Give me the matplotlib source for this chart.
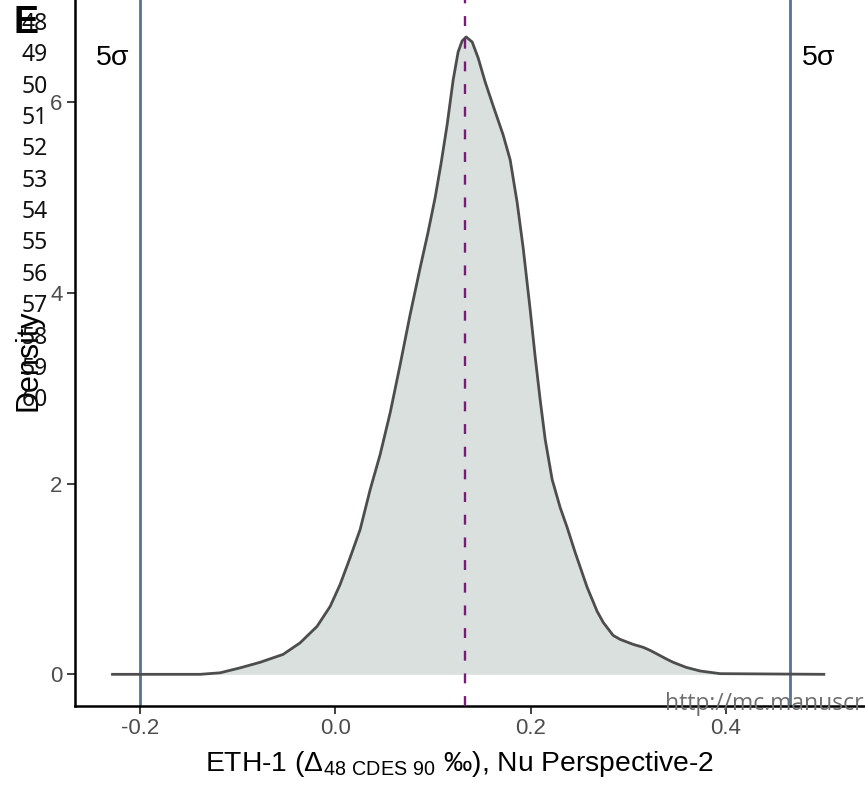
import matplotlib
matplotlib.use("Agg")
import matplotlib.pyplot as plt

# ---- data ----
x_vals = [-0.2298, -0.1386, -0.1181, -0.0976, -0.0772, -0.0536, -0.0362, -0.0188,
          -0.0054, 0.0048, 0.0151, 0.0253, 0.0356, 0.0458, 0.0561, 0.0663, 0.0765,
          0.0868, 0.0950, 0.1021, 0.1083, 0.1144, 0.1206, 0.1257, 0.1298, 0.1339,
          0.1401, 0.1462, 0.1534, 0.1616, 0.1718, 0.1790, 0.1862, 0.1923, 0.1995,
          0.2046, 0.2097, 0.2149, 0.2220, 0.2302, 0.2374, 0.2456, 0.2579, 0.2681,
          0.2743, 0.2845, 0.2917, 0.3050, 0.3153, 0.3224, 0.3398, 0.3460, 0.3593,
          0.3736, 0.3941, 0.5017]
density = [0.0, 0.0, 0.016, 0.068, 0.126, 0.209, 0.330, 0.503,
           0.712, 0.942, 1.225, 1.518, 1.937, 2.304, 2.743, 3.246, 3.770,
           4.262, 4.639, 4.995, 5.361, 5.759, 6.230, 6.524, 6.639, 6.681,
           6.628, 6.461, 6.209, 5.958, 5.654, 5.393, 4.942, 4.471, 3.822,
           3.330, 2.880, 2.461, 2.042, 1.749, 1.539, 1.277, 0.911, 0.660,
           0.545, 0.408, 0.366, 0.314, 0.283, 0.251, 0.157, 0.126, 0.073,
           0.035, 0.007, 0.0]
mean_value = 0.133
sigma_limits = [-0.2, 0.466]
sigma_label = "5σ"
x_ticks = [-0.2, 0.0, 0.2, 0.4]
x_tick_labels = ["-0.2", "0.0", "0.2", "0.4"]
y_ticks = [0, 2, 4, 6]
line_numbers = list(range(48, 61))
panel_label = "E"
watermark = "http://mc.manuscr"

plt.rcParams["font.family"] = ["Liberation Sans", "DejaVu Sans"]
plt.rcParams["mathtext.fontset"] = "custom"
plt.rcParams["mathtext.rm"] = "Liberation Sans"

W, H = 865, 786
fig = plt.figure(figsize=(W / 100, H / 100), dpi=100)
ax = fig.add_axes([75 / W, (H - 706) / H, (W - 75) / W, 706 / H])

ax.fill_between(x_vals, density, 0, color="#d9e0de", lw=0, zorder=1)
ax.plot(x_vals, density, color="#4d4d4d", lw=2.0, zorder=3, solid_capstyle="butt",
        solid_joinstyle="round")
for xv in sigma_limits:
    ax.axvline(xv, color="#5b7191", lw=2.0, zorder=2)
ax.axvline(mean_value, color="#7a1b7c", lw=1.7, dashes=(4.2, 5.4), zorder=4)

ax.text(-0.2115, 6.39, sigma_label, ha="right", va="baseline", fontsize=20.5, color="black")
ax.text(0.478, 6.39, sigma_label, ha="left", va="baseline", fontsize=20.5, color="black")

ax.set_xlim(-0.2668, 0.5425)
ax.set_ylim(-0.332, 7.068)
ax.set_xticks(x_ticks)
ax.set_xticklabels(x_tick_labels)
ax.set_yticks(y_ticks)

for s in ["top", "right"]:
    ax.spines[s].set_visible(False)
for s in ["left", "bottom"]:
    ax.spines[s].set_linewidth(1.8)
    ax.spines[s].set_color("black")
ax.tick_params(axis="both", direction="out", length=6, width=1.3, color="#333333",
               labelcolor="#4d4d4d", labelsize=16, pad=3)

ax.set_xlabel(r"ETH-1 (Δ$_{\mathregular{48\ CDES\ 90}}$ ‰), Nu Perspective-2",
              fontsize=20.3, color="black")
ax.xaxis.set_label_coords((460 - 75) / 790, -(771 - 706) / 706, transform=ax.transAxes)
ax.xaxis.label.set_va("baseline")
ax.set_ylabel("Density", fontsize=22, color="black")
ax.yaxis.set_label_coords(-(75 - 29) / 790, (706 - 360) / 706)
ax.yaxis.label.set_va("center")

# manuscript line numbers
for i, n in enumerate(line_numbers):
    yc = 24 + i * 31.35
    fig.text(48 / W, 1 - yc / H, str(n), ha="right", va="center", fontsize=16.5,
             family=["Noto Sans", "DejaVu Sans"], color="#111111")

fig.text(14 / W, 1 - 33 / H, panel_label, ha="left", va="baseline", fontsize=27,
         fontweight="bold", color="black")

fig.text(665 / W, 1 - 710 / H, watermark, ha="left", va="baseline", fontsize=16.5,
         family=["Open Sans", "DejaVu Sans"], color="#6e6e6e", zorder=10)

fig.savefig("out.png", dpi=100)
